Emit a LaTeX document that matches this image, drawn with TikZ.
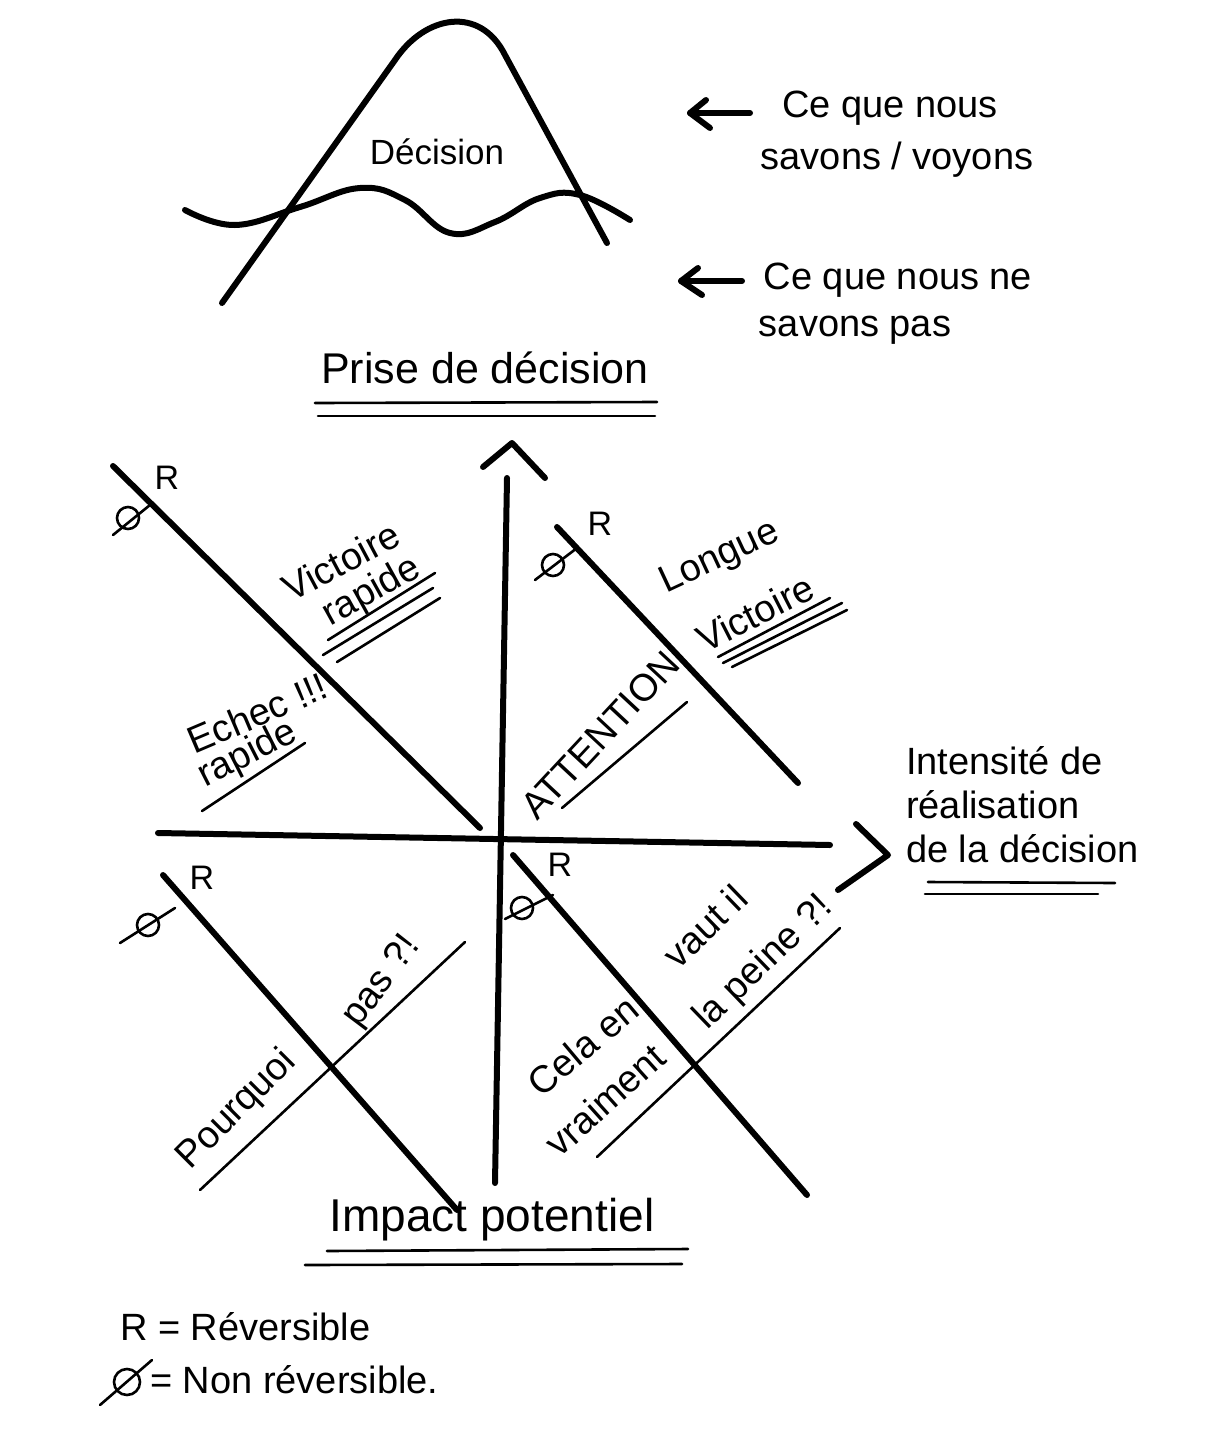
\documentclass[tikz,border=0pt]{standalone}
\usepackage{fontspec}
\setmainfont{Liberation Sans}
\begin{document}
\begin{tikzpicture}[x=1pt,y=-1pt,
  heavy/.style={line width=6pt, line cap=round, line join=round},
  thinline/.style={line width=2.6pt, line cap=round, line join=round},
  lbl/.style={inner sep=0pt, font=\fontsize{38}{44}\selectfont},
  big/.style={inner sep=0pt, font=\fontsize{43}{48}\selectfont},
  nullc/.style={circle, draw, line width=2.6pt, minimum size=22pt, inner sep=0pt},
  rmark/.style={inner sep=0pt, font=\fontsize{34}{38}\selectfont}
]
\useasboundingbox (0,0) rectangle (1212,1446);

% ---------- top sketch: mountain and wave
\coordinate (m1) at (222,303);
\coordinate (m2) at (607,243);
\draw[heavy] (m1) -- (395,60) .. controls (425,15) and (480,5) .. (505,55) -- (m2);
\draw[heavy] plot[smooth, tension=0.7] coordinates {(185,210) (235,225) (300,207) (360,188) (405,200) (450,233) (495,222) (540,198) (580,195) (630,220)};
\node[lbl, font=\fontsize{35}{40}\selectfont] (dec) at (437,152) {Décision};

% ---------- arrows to the right
\coordinate (a1s) at (750,113);
\coordinate (a1e) at (690,113);
\draw[heavy] (a1s) -- (a1e);
\draw[heavy] (706,100) -- (a1e) -- (710,128);
\node[lbl] (t1) at (890,108) {Ce que nous};
\node[lbl] (t2) at (897,160) {savons / voyons};

\coordinate (a2s) at (742,281);
\coordinate (a2e) at (681,281);
\draw[heavy] (a2s) -- (a2e);
\draw[heavy] (698,268) -- (a2e) -- (702,295);
\node[lbl] (t3) at (898,280) {Ce que nous ne};
\node[lbl] (t4) at (855,330) {savons pas};

% ---------- title
\node[big] (prise) at (485,368) {Prise de décision};
\draw[thinline] (315,403) -- (657,402);
\draw[thinline] (318,416) -- (655,416);

% ---------- axes
\coordinate (vb) at (495,1183);
\coordinate (vt) at (507,478);
\draw[heavy] (vb) -- (vt);
\draw[heavy] (483,467) -- (512,443) -- (545,478);
\coordinate (hl) at (158,833);
\coordinate (hr) at (830,845);
\draw[heavy] (hl) -- (hr);
\draw[heavy] (856,824) -- (888,855) -- (838,890);

\node[lbl, align=left, anchor=west] (intens) at (906,805) {Intensité de\\réalisation\\de la décision};
\draw[thinline] (928,882) -- (1115,883);
\draw[thinline] (925,894) -- (1098,894);

\node[big, font=\fontsize{46}{50}\selectfont] (impact) at (492,1220) {Impact potentiel};
\draw[thinline] (327,1251) -- (688,1249);
\draw[thinline] (305,1265) -- (682,1264);

% ---------- top-left quadrant
\coordinate (d1a) at (113,466);
\coordinate (d1b) at (480,828);
\draw[heavy] (d1a) -- (d1b);
\node[nullc] (n1) at (128,518) {};
\draw[thinline] (113,535) -- (150,505);
\node[rmark] (r1) at (167,478) {R};
\node[lbl, rotate=28] (vr1) at (341,561) {Victoire};
\node[lbl, rotate=29] (vr2) at (372,592) {rapide};
\draw[thinline] (328,640) -- (435,573);
\draw[thinline] (323,655) -- (433,588);
\draw[thinline] (337,662) -- (440,598);
\node[lbl, rotate=23] (ec1) at (257,713) {Echec !!!};
\node[lbl, rotate=27] (ec2) at (248,755) {rapide};
\draw[thinline] (202,811) -- (305,743);

% ---------- top-right quadrant
\coordinate (d2a) at (557,527);
\coordinate (d2b) at (798,783);
\draw[heavy] (d2a) -- (d2b);
\node[nullc] (n2) at (553,565) {};
\draw[thinline] (535,580) -- (577,548);
\node[rmark] (r2) at (600,524) {R};
\node[lbl, rotate=25] (lv1) at (720,558) {Longue};
\node[lbl, rotate=27] (lv2) at (755,613) {Victoire};
\draw[thinline] (718,657) -- (830,598);
\draw[thinline] (723,663) -- (842,603);
\draw[thinline] (732,667) -- (847,610);
\node[lbl, rotate=47] (att) at (600,735) {ATTENTION};
\draw[thinline] (562,808) -- (687,702);

% ---------- bottom-left quadrant
\coordinate (d3a) at (163,875);
\coordinate (d3b) at (457,1210);
\draw[heavy] (d3a) -- (d3b);
\node[nullc] (n3) at (148,925) {};
\draw[thinline] (120,943) -- (175,908);
\node[rmark] (r3) at (202,878) {R};
\node[lbl, rotate=45] (pq1) at (237,1110) {Pourquoi};
\node[lbl, rotate=53] (pq2) at (382,982) {pas ?!};
\draw[thinline] (200,1190) -- (465,942);

% ---------- bottom-right quadrant
\coordinate (d4a) at (513,855);
\coordinate (d4b) at (807,1195);
\draw[heavy] (d4a) -- (d4b);
\node[nullc] (n4) at (522,908) {};
\draw[thinline] (505,919) -- (553,895);
\node[rmark] (r4) at (560,865) {R};
\node[lbl, rotate=40] (ce1) at (583,1046) {Cela en};
\node[lbl, rotate=44] (ce2) at (705,926) {vaut il};
\node[lbl, rotate=42] (ce3) at (605,1100) {vraiment};
\node[lbl, rotate=44] (ce4) at (764,963) {la peine ?!};
\draw[thinline] (597,1157) -- (840,928);

% ---------- legend
\node[lbl, anchor=west] (leg1) at (120,1327) {R = Réversible};
\node[nullc, minimum size=26pt] (n5) at (127,1382) {};
\draw[thinline] (100,1405) -- (152,1360);
\node[lbl, anchor=west] (leg2) at (150,1380) {= Non réversible.};
\end{tikzpicture}
\end{document}
